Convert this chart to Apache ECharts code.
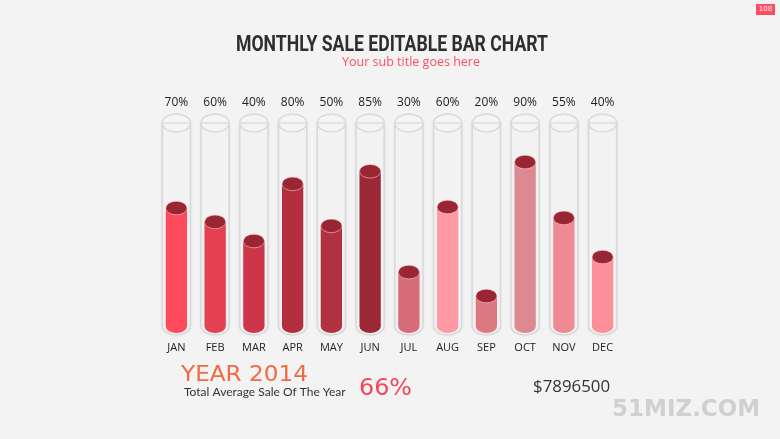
<!DOCTYPE html>
<html>
<head>
<meta charset="utf-8">
<script src="https://cdn.jsdelivr.net/npm/echarts@6/dist/echarts.min.js"></script>
<style>
html,body{margin:0;padding:0;background:#f3f3f3;}
#main{width:780px;height:439px;}
</style>
</head>
<body>
<div id="main"></div>
<script>
// ---- data ----
const months = ['JAN','FEB','MAR','APR','MAY','JUN','JUL','AUG','SEP','OCT','NOV','DEC'];
const pctLabels = ['70%','60%','40%','80%','50%','85%','30%','60%','20%','90%','55%','40%'];
const fillLevels = [59.5, 52.9, 43.8, 71, 51, 77, 29, 60, 17.6, 81.4, 54.8, 36.2];
const tubeMax = 100;
const barColors = ['#fe4a5c','#e53f52','#cd3648','#b32f3e','#b23140','#9b2836','#d56c78','#ff9aa5','#db7880','#dd8991','#ef8a95','#fe8e99'];

function ellipsePath(cx, cy, rx, ry) {
  return 'M' + (cx - rx) + ' ' + cy +
    ' A' + rx + ' ' + ry + ' 0 1 0 ' + (cx + rx) + ' ' + cy +
    ' A' + rx + ' ' + ry + ' 0 1 0 ' + (cx - rx) + ' ' + cy + ' Z';
}
function cylPath(cx, topY, bottomCy, rx, ry) {
  return 'M' + (cx - rx) + ' ' + topY +
    ' L' + (cx - rx) + ' ' + bottomCy +
    ' A' + rx + ' ' + ry + ' 0 0 0 ' + (cx + rx) + ' ' + bottomCy +
    ' L' + (cx + rx) + ' ' + topY + ' Z';
}
const mctx = document.createElement('canvas').getContext('2d');
function fitScale(text, weight, size, family, target) {
  mctx.font = weight + ' ' + size + 'px ' + family;
  return target / mctx.measureText(text).width;
}
function fittedText(text, x, y, align, target, weight, size, family, fill) {
  const s = fitScale(text, weight, size, family, target);
  return {
    type: 'text', x: x, y: y, scaleX: s, originX: 0, originY: 0,
    style: {text: text, fill: fill, fontSize: size, fontWeight: weight, fontFamily: family,
            align: align, verticalAlign: 'middle'}
  };
}

const chart = echarts.init(document.getElementById('main'), null, {renderer: 'canvas'});

const option = {
  backgroundColor: '#f3f3f3',
  animation: false,
  grid: {left: 157, right: 158, top: 123, bottom: 106},
  xAxis: {
    type: 'category',
    data: months,
    axisLine: {show: false},
    axisTick: {show: false},
    axisLabel: {color: '#222', fontSize: 11, fontFamily: 'Open Sans', margin: 9}
  },
  yAxis: {type: 'value', min: 0, max: tubeMax, show: false},
  series: [
    {
      type: 'custom',
      z: 1,
      data: months.map((m, i) => [i, tubeMax]),
      encode: {x: 0, y: 1},
      renderItem: function (params, api) {
        const i = api.value(0);
        const top = api.coord([i, api.value(1)]);
        const base = api.coord([i, 0]);
        const band = api.size([1, 0])[0];
        const rx = band * 0.365, ry = 9;
        const cx = top[0];
        return {
          type: 'group',
          children: [
            {
              type: 'path',
              shape: {pathData: cylPath(cx, top[1], base[1] - 7, rx, ry)},
              style: {fill: 'rgba(255,255,255,0.18)', stroke: '#d9d9d9', lineWidth: 1.5,
                      shadowBlur: 3, shadowColor: 'rgba(0,0,0,0.06)'}
            },
            {
              type: 'path',
              shape: {pathData: ellipsePath(cx, top[1], rx, ry)},
              style: {fill: 'rgba(255,255,255,0.2)', stroke: '#d9d9d9', lineWidth: 1.5}
            },
            {
              type: 'text',
              x: cx, y: top[1] - 20,
              style: {text: pctLabels[i], fill: '#222', fontSize: 12, fontFamily: 'Open Sans',
                      align: 'center', verticalAlign: 'middle'}
            }
          ]
        };
      }
    },
    {
      type: 'custom',
      z: 2,
      data: fillLevels.map((v, i) => [i, v]),
      encode: {x: 0, y: 1},
      renderItem: function (params, api) {
        const i = api.value(0);
        const top = api.coord([i, api.value(1)]);
        const base = api.coord([i, 0]);
        const band = api.size([1, 0])[0];
        const rx = band * 0.275, ry = 6.8;
        const cx = top[0];
        return {
          type: 'group',
          children: [
            {
              type: 'path',
              shape: {pathData: cylPath(cx, top[1], base[1] - ry, rx, ry)},
              style: {fill: barColors[i]}
            },
            {
              type: 'path',
              shape: {pathData: ellipsePath(cx, top[1], rx, ry)},
              style: {fill: '#9a2533', stroke: 'rgba(255,215,220,0.55)', lineWidth: 1}
            }
          ]
        };
      }
    }
  ],
  graphic: [
    fittedText('MONTHLY SALE EDITABLE BAR CHART', 392, 45, 'center', 312, 'bold', 22, 'Roboto', '#2e2e2e'),
    {type: 'text', x: 411, y: 62,
     style: {text: 'Your sub title goes here', fill: '#ff4d60', fontSize: 12.5, fontFamily: 'Open Sans',
             align: 'center', verticalAlign: 'middle'}},
    fittedText('YEAR 2014', 181, 376, 'left', 127, 'normal', 21, 'DejaVu Sans', '#f26a45'),
    {type: 'text', x: 184, y: 392,
     style: {text: 'Total Average Sale Of The Year', fill: '#333', fontSize: 12, fontFamily: 'Lato',
             align: 'left', verticalAlign: 'middle'}},
    fittedText('66%', 359, 389, 'left', 53, 'normal', 23, 'DejaVu Sans', '#f04858'),
    fittedText('$7896500', 533, 387, 'left', 77, 'normal', 16, 'Open Sans', '#333'),
    {type: 'text', x: 612, y: 410,
     style: {text: '51MIZ.COM', fill: '#d0d0d0', fontSize: 23, fontWeight: 'bold', fontFamily: 'DejaVu Sans',
             align: 'left', verticalAlign: 'middle'}},
    {type: 'rect', shape: {x: 756, y: 4, width: 19, height: 11}, style: {fill: '#ff4d60'}},
    {type: 'text', x: 765.5, y: 9.5,
     style: {text: '108', fill: '#fff', fontSize: 7, fontFamily: 'DejaVu Sans',
             align: 'center', verticalAlign: 'middle'}}
  ]
};
chart.setOption(option);
</script>
</body>
</html>
